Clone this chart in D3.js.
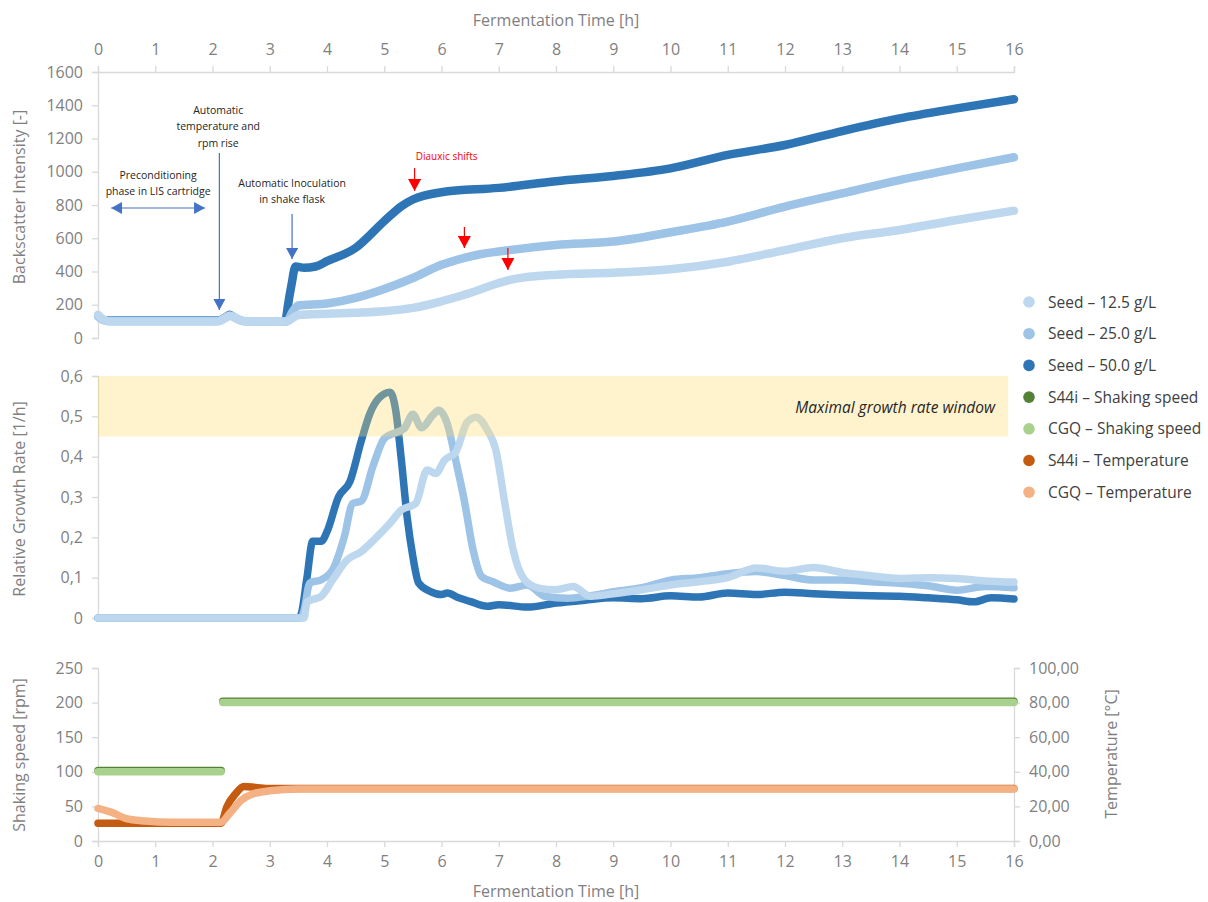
<!DOCTYPE html>
<html><head><meta charset="utf-8">
<script src="https://cdn.jsdelivr.net/npm/d3@7/dist/d3.min.js"></script>
<style>
html,body{margin:0;padding:0;background:#fff;}
svg{display:block;font-family:"Open Sans",Lato,sans-serif;}
</style></head>
<body><svg id="c" width="1208" height="902"></svg>
<script>
// ---------- DATA ----------
const timeTicks = d3.range(0, 17);
const bsTicks = [0, 200, 400, 600, 800, 1000, 1200, 1400, 1600];
const grTicks = [0, 0.1, 0.2, 0.3, 0.4, 0.5, 0.6];
const rpmTicks = [0, 50, 100, 150, 200, 250];
const tempTicks = [0, 20, 40, 60, 80, 100];

// Backscatter intensity [time h, value]
const seed125_bs = [[0,140],[0.08,115],[0.2,100],[1,100],[2.1,100],[2.2,115],[2.3,132],[2.45,112],[2.6,100],[3.3,100],[3.4,120],[3.5,138],[4,146],[4.5,152],[5,161],[5.5,181],[6,221],[6.5,271],[7,331],[7.2,350],[8,381],[9,393],[10,413],[11,459],[12,529],[13,600],[14,650],[15,710],[16,766]];
const seed250_bs = [[0,130],[0.08,110],[0.2,102],[2.1,102],[2.3,135],[2.5,105],[2.6,100],[3.3,100],[3.4,160],[3.5,195],[4,207],[4.5,241],[5,295],[5.5,361],[6,440],[6.4,482],[6.7,505],[7,520],[8,560],[9,580],[10,636],[11,700],[12,790],[13,870],[14,950],[15,1020],[16,1087]];
const seed500_bs_pre = [[0,150],[0.1,126],[2.1,126],[2.3,160],[2.45,130],[2.6,105],[3.3,100]];
const seed500_bs = [[3.28,100],[3.32,200],[3.38,320],[3.45,430],[3.6,422],[3.8,430],[4,462],[4.5,542],[5,703],[5.3,793],[5.5,833],[6,877],[7,903],[8,943],[9,975],[10,1020],[11,1101],[12,1161],[13,1245],[14,1321],[15,1381],[16,1436]];

// Relative growth rate [time h, 1/h]
const seed125_gr = [[0,0],[3.6,0],[3.65,0.04],[3.9,0.054],[4.1,0.095],[4.35,0.144],[4.6,0.165],[4.85,0.198],[5.1,0.235],[5.3,0.268],[5.55,0.284],[5.75,0.367],[5.9,0.358],[6.05,0.391],[6.25,0.412],[6.45,0.486],[6.6,0.498],[6.8,0.466],[6.95,0.416],[7.1,0.29],[7.25,0.17],[7.45,0.095],[7.7,0.074],[8.0,0.07],[8.3,0.078],[8.6,0.054],[9,0.06],[9.5,0.07],[10,0.082],[10.5,0.09],[11,0.1],[11.5,0.124],[12,0.116],[12.5,0.125],[13,0.113],[13.5,0.105],[14,0.098],[14.5,0.1],[15,0.098],[15.5,0.092],[16,0.089]];
const seed250_gr = [[0,0],[3.55,0],[3.6,0.02],[3.7,0.087],[3.9,0.095],[4.1,0.12],[4.3,0.2],[4.45,0.284],[4.6,0.29],[4.8,0.375],[5.0,0.445],[5.15,0.457],[5.35,0.47],[5.5,0.505],[5.65,0.472],[5.85,0.503],[5.95,0.515],[6.1,0.482],[6.25,0.39],[6.4,0.29],[6.55,0.17],[6.7,0.103],[6.9,0.09],[7.2,0.074],[7.5,0.082],[7.8,0.054],[8.2,0.049],[8.6,0.055],[9,0.065],[9.5,0.075],[10,0.094],[10.5,0.1],[11,0.11],[11.5,0.115],[12,0.105],[12.5,0.094],[13,0.094],[13.5,0.09],[14,0.086],[14.5,0.08],[15,0.069],[15.5,0.078],[16,0.075]];
const seed500_gr = [[0,0],[3.5,0],[3.55,0.01],[3.65,0.1],[3.75,0.19],[3.9,0.19],[4.0,0.214],[4.2,0.30],[4.4,0.338],[4.6,0.44],[4.75,0.507],[4.9,0.544],[5.1,0.56],[5.2,0.515],[5.3,0.39],[5.4,0.25],[5.5,0.152],[5.6,0.087],[5.8,0.066],[6.0,0.058],[6.1,0.062],[6.3,0.05],[6.5,0.041],[6.8,0.029],[7.0,0.033],[7.5,0.027],[8.0,0.037],[8.5,0.044],[9,0.05],[9.5,0.048],[10,0.055],[10.5,0.052],[11,0.062],[11.5,0.058],[12,0.064],[12.5,0.06],[13,0.057],[13.5,0.055],[14,0.054],[14.5,0.05],[15,0.045],[15.3,0.04],[15.6,0.05],[16,0.047]];
const growthWindow = [0.45, 0.6];

// Shaking speed [time h, rpm] (null = break)
const s44i_rpm = [[0,102],[2.15,102],[2.17,null],[2.18,202],[16,202]];
const cgq_rpm = [[0,100],[2.15,100],[2.17,null],[2.18,200],[16,200]];
// Temperature [time h, °C]
const s44i_temp = [[0,10.3],[2.15,10.3],[2.25,19.7],[2.4,27.2],[2.55,31.5],[2.75,31],[3,30.3],[16,30.3]];
const cgq_temp = [[0,18.8],[0.28,16],[0.48,13.1],[0.82,11.6],[1.3,10.9],[2.15,10.9],[2.3,16],[2.5,23.5],[2.7,27.2],[3,29],[3.5,30],[16,30]];

const legendLabels = ["Seed – 12.5 g/L","Seed – 25.0 g/L","Seed – 50.0 g/L","S44i – Shaking speed","CGQ – Shaking speed","S44i – Temperature","CGQ – Temperature"];
const legendColors = ["#bdd7ee","#9dc3e6","#2e75b6","#548235","#a9d18e","#c55a11","#f4b183"];

// ---------- CHART ----------
const FONT = "Open Sans";
const svg = d3.select("#c");
const AX = "#d9d9d9", TXT = "#7f7f7f";
const x = d3.scaleLinear([0,16],[98,1014]);
const yTop = d3.scaleLinear([0,1600],[338,72]);
const yMid = d3.scaleLinear([0,0.6],[618,376]);
const yRpm = d3.scaleLinear([0,250],[841,668]);
const yTemp = d3.scaleLinear([0,100],[841,668]);
const comma = f => v => f(v).replace(".", ",");

function styleAxis(g){
  g.selectAll(".domain").attr("stroke",AX).attr("stroke-width",1.3);
  g.selectAll(".tick line").attr("stroke",AX).attr("stroke-width",1.3);
  g.selectAll(".tick text").attr("fill",TXT).attr("font-size",16).attr("font-family",FONT);
}
// top x axis
svg.append("g").attr("transform","translate(0,72)")
  .call(d3.axisTop(x).tickValues(timeTicks).tickSizeOuter(0).tickSize(6).tickPadding(11)).call(styleAxis);
// bottom x axis
svg.append("g").attr("transform","translate(0,841)")
  .call(d3.axisBottom(x).tickValues(timeTicks).tickSizeOuter(0).tickSize(6).tickPadding(9)).call(styleAxis);
// left axes
svg.append("g").attr("transform","translate(98,0)")
  .call(d3.axisLeft(yTop).tickValues(bsTicks).tickFormat(d3.format("d")).tickSizeOuter(0).tickSize(6).tickPadding(9)).call(styleAxis);
svg.append("g").attr("transform","translate(98,0)")
  .call(d3.axisLeft(yMid).tickValues(grTicks).tickFormat(d => d===0 ? "0" : comma(d3.format(".1f"))(d)).tickSizeOuter(0).tickSize(6).tickPadding(9)).call(styleAxis);
svg.append("g").attr("transform","translate(98,0)")
  .call(d3.axisLeft(yRpm).tickValues(rpmTicks).tickFormat(d3.format("d")).tickSizeOuter(0).tickSize(6).tickPadding(9)).call(styleAxis);
svg.append("g").attr("transform","translate(1014,0)")
  .call(d3.axisRight(yTemp).tickValues(tempTicks).tickFormat(comma(d3.format(".2f"))).tickSizeOuter(0).tickSize(6).tickPadding(9)).call(styleAxis);

// axis titles
function title(txt,xp,yp,rot){
  svg.append("text").attr("transform",`translate(${xp},${yp}) rotate(${rot||0})`)
    .attr("text-anchor","middle").attr("fill",TXT).attr("font-size",16).attr("font-family",FONT).text(txt);
}
title("Fermentation Time [h]", 556, 26);
title("Fermentation Time [h]", 556, 897);
title("Backscatter Intensity [-]", 25, 197, -90);
title("Relative Growth Rate [1/h]", 25, 499, -90);
title("Shaking speed [rpm]", 25, 755, -90);
title("Temperature [°C]", 1117, 754, -90);

function drawLine(data, ys, color, w){
  const ln = d3.line().defined(d => d[1] != null).x(d => x(d[0])).y(d => ys(d[1])).curve(d3.curveMonotoneX);
  svg.append("path").datum(data).attr("d", ln).attr("fill","none").attr("stroke",color)
    .attr("stroke-width",w).attr("stroke-linecap","round").attr("stroke-linejoin","round");
}
// top panel
drawLine(seed500_bs_pre, yTop, "#2e75b6", 1.6);
drawLine(seed500_bs, yTop, "#2e75b6", 8.5);
drawLine(seed250_bs, yTop, "#9dc3e6", 8.5);
drawLine(seed125_bs, yTop, "#bdd7ee", 8.5);

// middle panel
drawLine(seed500_gr, yMid, "#2e75b6", 7.5);
drawLine(seed250_gr, yMid, "#9dc3e6", 7.5);
drawLine(seed125_gr, yMid, "#bdd7ee", 7.5);
svg.append("rect").attr("x",x(0)).attr("y",yMid(growthWindow[1]))
  .attr("width",x(15.9)-x(0)).attr("height",yMid(growthWindow[0])-yMid(growthWindow[1]))
  .attr("fill","#ffd966").attr("opacity",0.32);
svg.append("text").attr("x",x(15.67)).attr("y",yMid(0.52)+5).attr("text-anchor","end")
  .attr("font-style","italic").attr("font-size",15.5).attr("fill","#262626").attr("font-family",FONT).text("Maximal growth rate window");

// bottom panel
drawLine(s44i_rpm, yRpm, "#548235", 7.5);
drawLine(cgq_rpm, yRpm, "#a9d18e", 7.5);
drawLine(s44i_temp, yTemp, "#c55a11", 7.5);
drawLine(cgq_temp, yTemp, "#f4b183", 7.5);

// annotations (data coordinates)
const defs = svg.append("defs");
function marker(id,color,w,h){
  defs.append("marker").attr("id",id).attr("viewBox",`0 0 ${w} ${h}`).attr("refX",w).attr("refY",h/2)
    .attr("markerWidth",w).attr("markerHeight",h).attr("markerUnits","userSpaceOnUse").attr("orient","auto-start-reverse")
    .append("path").attr("d",`M0,0L${w},${h/2}L0,${h}Z`).attr("fill",color);
}
marker("ab","#4472c4",11,12);
marker("ar","#ff0000",12,13);
function arrow(t1,v1,t2,v2,m,color,both){
  const l = svg.append("line").attr("x1",x(t1)).attr("y1",yTop(v1)).attr("x2",x(t2)).attr("y2",yTop(v2))
    .attr("stroke",color).attr("stroke-width",1.2).attr("marker-end",`url(#${m})`);
  if(both) l.attr("marker-start",`url(#${m})`);
}
arrow(0.23,782,1.87,782,"ab","#4472c4",true);
arrow(2.12,1113,2.12,168,"ab","#4472c4");
arrow(3.39,746,3.39,475,"ab","#4472c4");
arrow(5.53,1022,5.53,884,"ar","#ff0000");
arrow(6.4,668,6.4,541,"ar","#ff0000");
arrow(7.16,541,7.16,409,"ar","#ff0000");
function noteLines(lines,t,vTop,color,size,step){
  lines.forEach((s,i)=>svg.append("text").attr("x",x(t)).attr("y",yTop(vTop)+i*step)
    .attr("text-anchor","middle").attr("font-size",size).attr("fill",color).attr("font-family",FONT).text(s));
}
noteLines(["Preconditioning","phase in LIS cartridge"],1.05,955,"#262626",10.5,16);
noteLines(["Automatic","temperature and","rpm rise"],2.1,1348,"#262626",10.5,16.5);
noteLines(["Automatic Inoculation","in shake flask"],3.39,908,"#262626",10.5,16);
noteLines(["Diauxic shifts"],6.09,1073,"#ff0000",10,0);

// legend
const lg = svg.append("g").selectAll("g").data(legendLabels).join("g")
  .attr("transform",(d,i)=>`translate(1029,${302+i*31.7})`);
lg.append("circle").attr("r",5.8).attr("fill",(d,i)=>legendColors[i]);
lg.append("text").attr("x",19).attr("y",5.5).attr("font-size",15.5).attr("fill","#404040").attr("font-family",FONT).text(d=>d);
</script></body></html>
